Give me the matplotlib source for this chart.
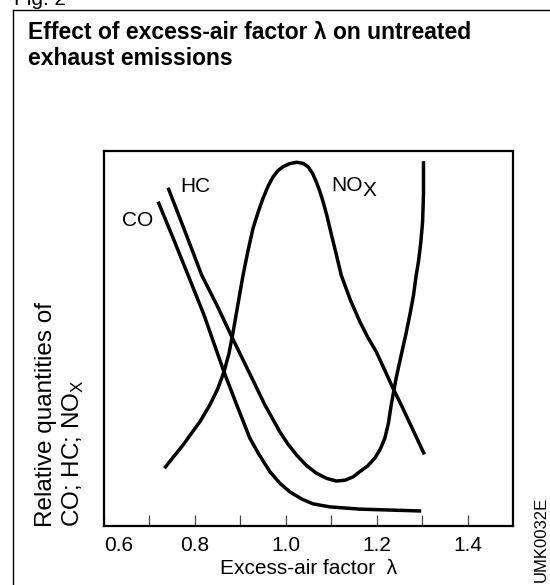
import numpy as np
import matplotlib
matplotlib.use("Agg")
import matplotlib.pyplot as plt
from matplotlib.lines import Line2D

# values: lambda vs relative quantity (0..100 of axis height)
nox_lam = [0.733, 0.750, 0.774, 0.790, 0.811, 0.833, 0.850, 0.864, 0.875, 0.886,
           0.896, 0.906, 0.917, 0.928, 0.940, 0.950, 0.961, 0.972, 0.983, 0.994,
           1.008, 1.024, 1.038, 1.049, 1.059, 1.067, 1.075, 1.082, 1.090, 1.097,
           1.110, 1.122, 1.142, 1.163, 1.180, 1.199, 1.218, 1.236, 1.254, 1.280,
           1.305]
nox_val = [15.4, 18.0, 21.6, 24.3, 27.8, 32.3, 36.5, 41.1, 46.0, 53.0,
           60.0, 66.9, 73.5, 79.4, 84.0, 87.4, 90.6, 93.1, 94.8, 95.8,
           96.6, 97.0, 96.7, 95.8, 94.0, 91.8, 89.2, 86.5, 83.0, 79.4,
           73.0, 66.9, 60.3, 54.5, 50.4, 46.5, 41.5, 36.7, 32.3, 25.6,
           19.1]

co_lam = [0.719, 0.750, 0.785, 0.820, 0.864, 0.892, 0.921, 0.940, 0.965, 0.987,
          1.009, 1.035, 1.060, 1.097, 1.163, 1.298]
co_val = [86.5, 77.4, 66.9, 56.3, 41.1, 32.3, 23.4, 19.3, 14.5, 11.4,
          9.1, 7.2, 5.9, 5.1, 4.5, 4.0]

hc_lam = [0.741, 0.780, 0.815, 0.850, 0.881, 0.920, 0.954, 0.987, 1.005, 1.024,
          1.045, 1.067, 1.090, 1.111, 1.130, 1.148, 1.163, 1.180, 1.196, 1.208,
          1.218, 1.226, 1.232, 1.243, 1.254, 1.264, 1.273, 1.281, 1.287, 1.292,
          1.297, 1.301, 1.303, 1.303]
hc_val = [90.2, 78.0, 66.9, 58.5, 50.5, 40.8, 32.3, 25.1, 21.8, 18.9,
          16.2, 14.1, 12.7, 12.0, 12.2, 13.1, 14.5, 16.0, 18.1, 20.5,
          23.4, 27.5, 32.3, 39.5, 45.6, 51.0, 56.3, 61.5, 66.9, 70.5,
          75.5, 81.0, 88.3, 97.3]

xticks = [0.6, 0.7, 0.8, 0.9, 1.0, 1.1, 1.2, 1.3, 1.4]
xlabels = ["0.6", "", "0.8", "", "1.0", "", "1.2", "", "1.4"]

plt.rcParams['font.family'] = ['Liberation Sans', 'DejaVu Sans']

W, H = 550, 585
fig = plt.figure(figsize=(W / 100, H / 100), dpi=100)

def fx(x):
    return x / W

def fy(y):
    return 1 - y / H

# outer frame of the figure box
fig.add_artist(Line2D([fx(13), fx(13)], [fy(10), fy(590)], color='k', lw=1.0))
fig.add_artist(Line2D([fx(13), fx(560)], [fy(10), fy(10)], color='k', lw=1.0))
fig.text(fx(14), fy(5), "Fig. 2", fontsize=15, va='baseline', ha='left')

fig.text(fx(28), fy(39), "Effect of excess-air factor \u03bb on untreated",
         fontsize=16.5, fontweight='bold', va='baseline', ha='left')
fig.text(fx(28), fy(65), "exhaust emissions",
         fontsize=16.5, fontweight='bold', va='baseline', ha='left')

L, R, T, B = 104, 513, 151, 526
ax = fig.add_axes([fx(L), fy(B), (R - L) / W, (B - T) / H])
ax.set_xlim(0.6, 1.5)
ax.set_ylim(0, 100)

for lam, val in [(nox_lam, nox_val), (co_lam, co_val), (hc_lam, hc_val)]:
    ax.plot(lam, val, color='k', lw=2.5, solid_capstyle='butt', solid_joinstyle='round')

for s in ax.spines.values():
    s.set_linewidth(1.6)

ax.set_yticks([])
ax.set_xticks(xticks)
ax.set_xticklabels(xlabels)
ax.tick_params(axis='x', direction='in', length=8, width=0.9, color='#444444',
               pad=7, labelsize=15)
ax.get_xticklabels()[0].set_ha('left')

ax.set_xlabel("Excess-air factor  \u03bb", fontsize=15, labelpad=3)

# curve labels
ax.text(0.674, 81.6, "CO", fontsize=15, ha='center', va='center')
ax.text(0.802, 90.5, "HC", fontsize=15, ha='center', va='center')
ax.text(1.100, 90.9, "NO", fontsize=15, ha='left', va='center')
ax.text(1.169, 89.4, "X", fontsize=15, ha='left', va='center')

# rotated y label, two lines, starting at the axis bottom
fig.text(fx(52), fy(527), "Relative quantities of", fontsize=17.5, rotation=90,
         rotation_mode='anchor', ha='left', va='baseline')
fig.text(fx(80), fy(527), "CO; HC; NO$_\\mathregular{X}$", fontsize=17.5, rotation=90,
         rotation_mode='anchor', ha='left', va='baseline')

fig.text(fx(546), fy(582), "UMK0032E", fontsize=12, rotation=90,
         rotation_mode='anchor', ha='left', va='baseline')

fig.savefig("out.png", dpi=100)
